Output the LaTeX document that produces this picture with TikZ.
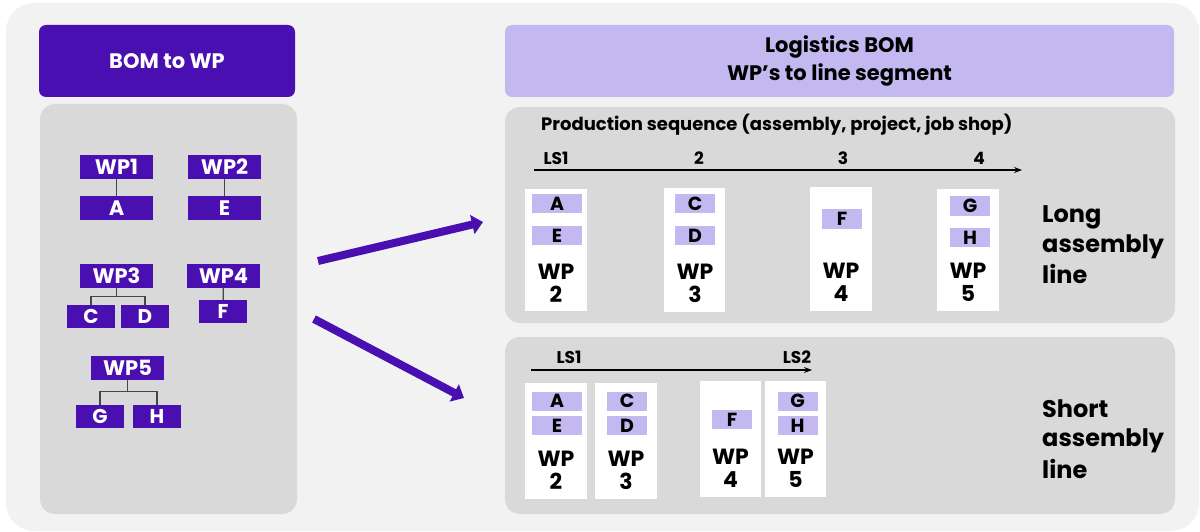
\documentclass[tikz,border=0pt]{standalone}
\usepackage{fontspec}
\setmainfont{Poppins}
\usepackage{tikz}
\usetikzlibrary{arrows.meta, positioning}
\definecolor{bompurple}{HTML}{4A0FB0}
\definecolor{lilac}{HTML}{C4B8F0}
\definecolor{panelgrey}{HTML}{D9D9D9}
\definecolor{bggrey}{HTML}{F2F2F2}
\definecolor{linkgrey}{HTML}{3C4A4A}
\newcommand{\fs}[1]{\fontsize{#1}{#1}\selectfont}

\begin{document}
\begin{tikzpicture}[x=1pt,y=-1pt,
  panel/.style={rectangle,rounded corners=15pt,fill=panelgrey,inner sep=0pt},
  head/.style={rectangle,rounded corners=7pt,inner sep=0pt,minimum width=256,minimum height=72,
    font=\bfseries\fs{21},align=center},
  wpbox/.style={rectangle,fill=bompurple,text=white,inner sep=0pt,minimum width=73,minimum height=24,
    font=\bfseries\fs{21}},
  partbox/.style={rectangle,fill=bompurple,text=white,inner sep=0pt,minimum width=48,minimum height=23,
    font=\bfseries\fs{20}},
  card/.style={rectangle,fill=white,inner sep=0pt,minimum width=62,minimum height=122},
  chip/.style={rectangle,fill=lilac,inner sep=0pt,minimum width=40,minimum height=19,font=\bfseries\fs{19}},
  wide/.style={minimum width=50},
  wplabel/.style={align=center,font=\bfseries\fs{22},inner sep=0pt,text depth=0pt},
  tick/.style={font=\bfseries\fs{17},inner sep=0pt},
  linetitle/.style={align=left,anchor=north west,font=\bfseries\fs{24},inner sep=0pt},
  link/.style={line width=1.2pt,color=linkgrey},
  seq/.style={-{Stealth[length=8pt,width=6pt]},line width=1.1pt},
  flow/.style={-{Triangle[length=11pt,width=19pt]},line width=8pt,color=bompurple}]
  \useasboundingbox (0,0) rectangle (1200,532);
  \fill[bggrey,rounded corners=28pt] (6,3) rectangle (1199,531);

  % left side
  \node[head,fill=bompurple,text=white] (bomhead) at (167,61) {BOM to WP};
  \node[panel,minimum width=257,minimum height=410] (leftpanel) at (168.5,309) {};

  \node[wpbox] (wp1) at (116.5,167) {WP1};
  \node[wpbox,below=17pt of wp1] (a) {A};
  \node[wpbox] (wp2) at (224.5,167) {WP2};
  \node[wpbox,below=17pt of wp2] (e) {E};
  \node[wpbox] (wp3) at (116.5,275.5) {WP3};
  \node[partbox] (c) at (91,316.5) {C};
  \node[partbox] (d) at (145,316.5) {D};
  \node[wpbox] (wp4) at (223.5,275.5) {WP4};
  \node[partbox] (f) at (223,311.5) {F};
  \node[wpbox] (wp5) at (127.5,367.5) {WP5};
  \node[partbox] (g) at (100,416.5) {G};
  \node[partbox] (h) at (157,416.5) {H};
  \draw[link] (wp1) -- (a);
  \draw[link] (wp2) -- (e);
  \draw[link] (wp4) -- (f);
  \draw[link] (wp3.south) -- ++(0,9) -| (c.north);
  \draw[link] (wp3.south) -- ++(0,9) -| (d.north);
  \draw[link] (wp5.south) -- ++(0,12) -| (g.north);
  \draw[link] (wp5.south) -- ++(0,12) -| (h.north);

  % arrows
  \coordinate (up0) at (318,261);
  \coordinate (up1) at (483,222);
  \coordinate (dn0) at (314,319);
  \coordinate (dn1) at (464,398);
  \draw[flow] (up0) -- (up1);
  \draw[flow] (dn0) -- (dn1);

  % right side
  \node[head,fill=lilac,minimum width=669] (logihead) at (839.5,61) {Logistics BOM\\[4pt]WP’s to line segment};
  \node[panel,minimum width=670,minimum height=216] (longpanel) at (840,215) {};
  \node[panel,minimum width=670,minimum height=177] (shortpanel) at (840,425.5) {};

  % long assembly line
  \node[anchor=west,font=\bfseries\fs{18},inner sep=0pt] (prodseq) at (541,125) {Production sequence (assembly, project, job shop)};
  \coordinate (la0) at (534,170);
  \coordinate (la1) at (1022,170);
  \draw[seq] (la0) -- (la1);
  \node[tick] (lt1) at (556,158) {LS1};
  \node[tick] (lt2) at (699,158) {2};
  \node[tick] (lt3) at (843,158) {3};
  \node[tick] (lt4) at (979,158) {4};

  \node[card] (lc1) at (556,250) {};
  \node[card,minimum width=61,minimum height=124] (lc2) at (694.5,250) {};
  \node[card,minimum height=124] (lc3) at (841,249) {};
  \node[card] (lc4) at (968,250) {};
  \node[chip,wide] (la) at (557,203.5) {A};
  \node[chip,wide] (le) at (557,235.5) {E};
  \node[chip] (lc) at (695,203.5) {C};
  \node[chip] (ld) at (695,235.5) {D};
  \node[chip,minimum height=20] (lf) at (842,219) {F};
  \node[chip] (lg) at (970,206) {G};
  \node[chip] (lh) at (970,237.5) {H};
  \node[wplabel] (lw2) at (556,283.5) {WP\\[1pt]2};
  \node[wplabel] (lw3) at (695,283.5) {WP\\[1pt]3};
  \node[wplabel] (lw4) at (841,282.5) {WP\\[1pt]4};
  \node[wplabel] (lw5) at (968,282.5) {WP\\[1pt]5};
  \node[linetitle] (longtxt) at (1042,205) {Long\\[5pt]assembly\\[5pt]line};

  % short assembly line
  \coordinate (sa0) at (531,370);
  \coordinate (sa1) at (812,370);
  \draw[seq] (sa0) -- (sa1);
  \node[tick] (st1) at (569,357) {LS1};
  \node[tick] (st2) at (797,357) {LS2};

  \node[card,minimum height=116] (sc1) at (556,441) {};
  \node[card,minimum height=116] (sc2) at (626,441) {};
  \node[card,minimum width=61,minimum height=116] (sc3) at (730.5,439) {};
  \node[card,minimum width=61,minimum height=116] (sc4) at (795.5,439) {};
  \node[chip,wide] (sa) at (557,401) {A};
  \node[chip,wide] (se) at (557,425.5) {E};
  \node[chip] (sc) at (627,401) {C};
  \node[chip] (sd) at (627,425.5) {D};
  \node[chip] (sf) at (732,419.5) {F};
  \node[chip] (sg) at (797.5,401) {G};
  \node[chip] (sh) at (797.5,425.5) {H};
  \node[wplabel] (sw2) at (556,470.5) {WP\\[1pt]2};
  \node[wplabel] (sw3) at (626,470.5) {WP\\[1pt]3};
  \node[wplabel] (sw4) at (730.5,468.5) {WP\\[1pt]4};
  \node[wplabel] (sw5) at (795.5,468.5) {WP\\[1pt]5};
  \node[linetitle] (shorttxt) at (1042,400) {Short\\[5pt]assembly\\[5pt]line};
\end{tikzpicture}
\end{document}
